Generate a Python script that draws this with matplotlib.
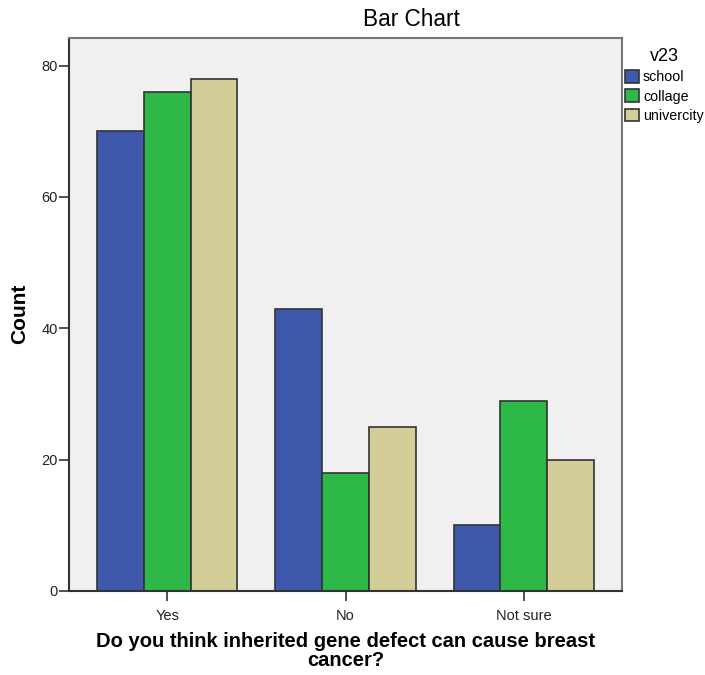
import matplotlib
matplotlib.use('Agg')
import matplotlib.pyplot as plt
import numpy as np

# 字型設定 (Arial 相容)
plt.rcParams['font.family'] = ['Liberation Sans', 'DejaVu Sans']

# 資料
categories = ['Yes', 'No', 'Not sure']
groups = ['school', 'collage', 'univercity']
school = [70, 43, 10]
collage = [76, 18, 29]
univercity = [78, 25, 20]
colors = ['#3e58ac', '#2eb848', '#d3ce97']
y_ticks = [0, 20, 40, 60, 80]

fig = plt.figure(figsize=(7.05, 6.75), dpi=100)
ax = fig.add_axes([69 / 705, 1 - 591 / 675, 553 / 705, 553 / 675])
ax.set_facecolor('#f0f0f0')

x = np.arange(len(categories))
w = 0.263
for i, (vals, name) in enumerate(zip([school, collage, univercity], groups)):
    ax.bar(x + (i - 1) * w, vals, width=w, color=colors[i], edgecolor='#333333',
           linewidth=1.2, label=name, zorder=2)

ax.set_xlim(-0.55, 2.55)
ax.set_ylim(0, 84.2)
ax.set_xticks(x)
ax.set_xticklabels(categories, fontsize=10.5, color='#222222')
ax.set_yticks(y_ticks)
ax.set_yticklabels([str(v) for v in y_ticks], fontsize=10.5, color='#222222')
ax.tick_params(axis='y', direction='out', length=7, width=1.2, color='#333333', pad=1)
ax.tick_params(axis='x', direction='out', length=7, width=1.2, color='#333333', pad=6)

for s in ['top', 'right']:
    ax.spines[s].set_color('#777777')
    ax.spines[s].set_linewidth(1.5)
for s in ['left', 'bottom']:
    ax.spines[s].set_color('#333333')
    ax.spines[s].set_linewidth(1.5)

fig.text(411.5 / 705, 1 - 20 / 675, 'Bar Chart', ha='center', va='center', fontsize=16.3)
fig.text(20 / 705, 1 - 314 / 675, 'Count', ha='center', va='center', rotation=90,
         fontsize=15, fontweight='bold')
fig.text(346 / 705, 1 - 651 / 675, 'Do you think inherited gene defect can cause breast\ncancer?',
         ha='center', va='center', fontsize=14.5, fontweight='bold', linespacing=0.95)

leg = fig.legend(loc='upper left', bbox_to_anchor=(625 / 705, 1 - 48 / 675), frameon=False,
                 title='v23', fontsize=10.3, title_fontsize=13, borderpad=0,
                 handlelength=0.95, handleheight=1.0, handletextpad=0.3,
                 labelspacing=0.35, borderaxespad=0)
for h in leg.legend_handles:
    h.set_edgecolor('#333333')

fig.savefig('out.png', dpi=100)
